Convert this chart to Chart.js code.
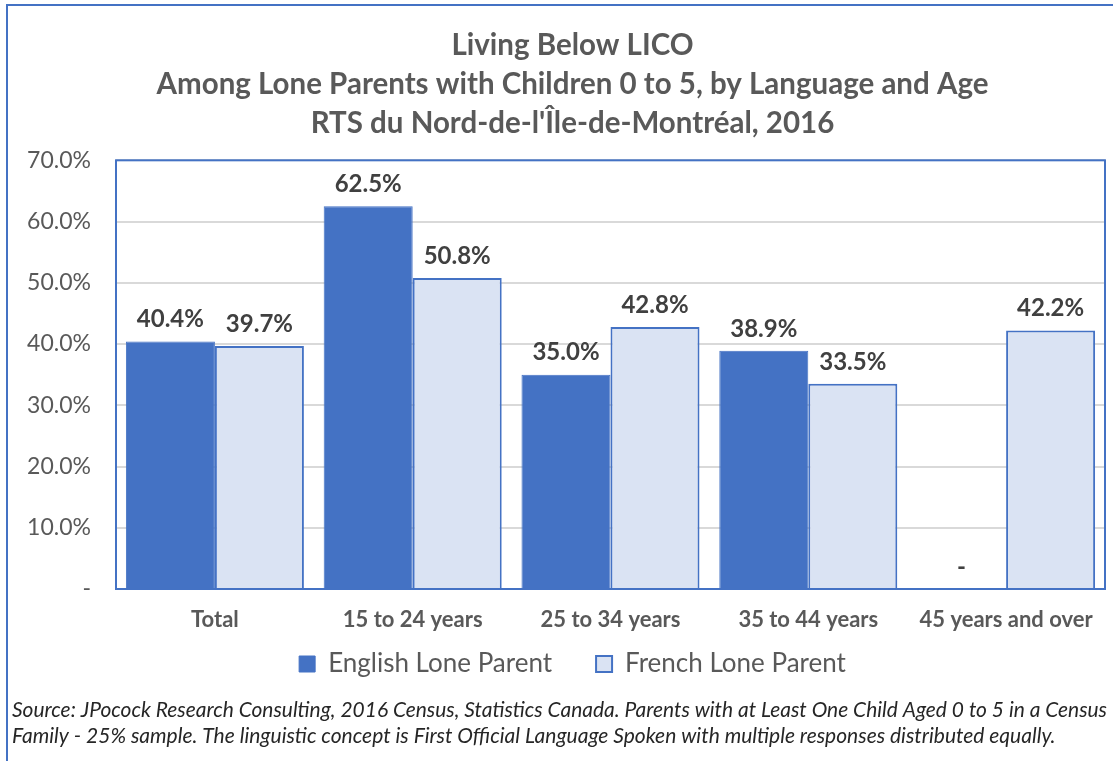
<!DOCTYPE html>
<html>
<head>
<meta charset="utf-8">
<script src="https://cdn.jsdelivr.net/npm/chart.js@4.4.1/dist/chart.umd.min.js"></script>
<style>
  html, body { margin: 0; padding: 0; background: #fff; overflow: hidden; }
  #wrap { width: 1113px; height: 761px; overflow: hidden; position: relative; }
  canvas { display: block; }
</style>
</head>
<body>
<div id="wrap"><canvas id="chart" width="1150" height="761"></canvas></div>
<script>
// chart data
const categories = ['Total', '15 to 24 years', '25 to 34 years', '35 to 44 years', '45 years and over'];
const englishValues = [40.4, 62.5, 35.0, 38.9, 0];
const frenchValues = [39.7, 50.8, 42.8, 33.5, 42.2];
const seriesNames = ['English Lone Parent', 'French Lone Parent'];
const titleLines = [
  'Living Below LICO',
  'Among Lone Parents with Children 0 to 5, by Language and Age',
  "RTS du Nord-de-l'Île-de-Montréal, 2016",
];
const sourceLines = [
  'Source: JPocock Research Consulting, 2016 Census, Statistics Canada. Parents with at Least One Child Aged 0 to 5 in a Census',
  'Family - 25% sample. The linguistic concept is First Official Language Spoken with multiple responses distributed equally.',
];

const BLUE = '#4472C4';
const LIGHT = '#DAE3F3';
const GREY = '#595959';
const FONT = 'Lato, "Open Sans", sans-serif';

const fmtPct = (v) => (v === 0 ? '-' : v.toFixed(1) + '%');

// outer frame, plot area frame and the source note
const framePlugin = {
  id: 'frame',
  afterLayout(chart) {
    // axis boxes are squeezed for placement; let their labels draw past them
    chart.scales.y.left = 0;
    chart.scales.x.bottom = chart.height;
  },
  beforeDatasetsDraw(chart) {
    const { ctx, chartArea: a } = chart;
    ctx.save();
    ctx.strokeStyle = BLUE;
    ctx.lineWidth = 2;
    ctx.strokeRect(a.left, a.top, a.right - a.left, a.bottom - a.top);
    ctx.restore();
  },
  afterDraw(chart) {
    const { ctx } = chart;
    ctx.save();
    ctx.strokeStyle = BLUE;
    ctx.lineWidth = 2;
    ctx.strokeRect(7, 5, 1138, 800);
    ctx.fillStyle = '#262626';
    ctx.font = 'italic 21px ' + FONT;
    ctx.textAlign = 'left';
    ctx.textBaseline = 'middle';
    ctx.fillText(sourceLines[0], 12, 710, 1095);
    ctx.fillText(sourceLines[1], 12, 736, 1095);
    ctx.restore();
  },
};

// value labels above bars
const valueLabels = {
  id: 'valueLabels',
  afterDatasetsDraw(chart) {
    const { ctx } = chart;
    ctx.save();
    ctx.fillStyle = '#404040';
    ctx.font = 'bold 24px ' + FONT;
    ctx.textAlign = 'center';
    ctx.textBaseline = 'middle';
    chart.data.datasets.forEach((ds, i) => {
      chart.getDatasetMeta(i).data.forEach((bar, j) => {
        ctx.fillText(fmtPct(ds.data[j]), bar.x, bar.y - 22);
      });
    });
    ctx.restore();
  },
};

new Chart(document.getElementById('chart'), {
  type: 'bar',
  data: {
    labels: categories,
    datasets: [
      {
        label: seriesNames[0],
        data: englishValues,
        backgroundColor: BLUE,
        borderColor: BLUE,
        borderWidth: 1,
      },
      {
        label: seriesNames[1],
        data: frenchValues,
        backgroundColor: LIGHT,
        borderColor: BLUE,
        borderWidth: 2,
      },
    ],
  },
  options: {
    responsive: false,
    animation: false,
    events: [],
    layout: { padding: { top: 8, left: 40, right: 45, bottom: 74 } },
    datasets: {
      bar: { categoryPercentage: 0.9, barPercentage: 1.0 },
    },
    plugins: {
      title: {
        display: true,
        text: titleLines,
        color: GREY,
        font: { family: FONT, size: 29.5, weight: 'bold', lineHeight: 1.32 },
        padding: { top: 18.5, bottom: 17 },
      },
      legend: {
        position: 'bottom',
        labels: {
          color: GREY,
          font: { family: FONT, size: 26 },
          boxWidth: 16,
          boxHeight: 16,
          padding: 44,
        },
      },
      tooltip: { enabled: false },
    },
    scales: {
      x: {
        afterFit(scale) {
          scale.height = 18;
        },
        grid: { display: false, drawTicks: false },
        border: { display: false },
        ticks: {
          color: GREY,
          font: { family: FONT, size: 22, weight: 'bold' },
          padding: 18,
          maxRotation: 0,
        },
      },
      y: {
        min: 0,
        max: 70,
        afterFit(scale) {
          scale.width = 76;
        },
        grid: { color: '#D9D9D9', lineWidth: 2, drawTicks: false },
        border: { display: false },
        ticks: {
          stepSize: 10,
          color: GREY,
          font: { family: FONT, size: 23 },
          padding: 25,
          callback: (v) => fmtPct(v),
        },
      },
    },
  },
  plugins: [framePlugin, valueLabels],
});
</script>
</body>
</html>
